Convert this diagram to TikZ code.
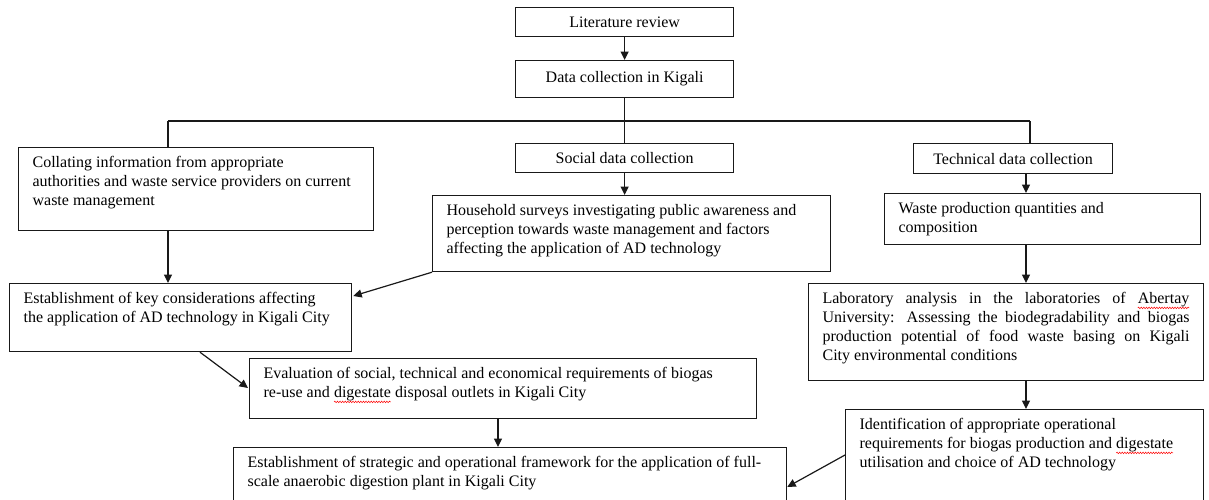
\documentclass[tikz,border=0pt]{standalone}
\usepackage{fontspec}
\setmainfont{Liberation Serif}
\usetikzlibrary{arrows.meta,calc,decorations.pathmorphing}
% red wavy mark under a word flagged by the spell checker
\newcommand\spellchk[1]{\tikz[baseline=(spw.base),x=1pt,y=1pt]{%
  \node[inner sep=0pt,outer sep=0pt,draw=none,anchor=base west] (spw) at (0,0) {#1};
  \draw[red,line width=0.5pt,decorate,decoration={snake,amplitude=0.8pt,segment length=2.6pt}]
    ($(spw.base west)+(0,-4)$) -- ($(spw.base east)+(0,-4)$);}}
% top-aligned text block of fixed width and height
\newcommand\topbox[3]{\parbox[t][#2][t]{#1}{\strut #3}}
\begin{document}
\begin{tikzpicture}[x=1pt,y=-1pt,
  txt/.style={font=\fontsize{16}{19}\selectfont},
  blk/.style={txt, draw=black!90, line width=1.2pt, inner xsep=14pt, inner ysep=7pt, anchor=north west},
  ctr/.style={txt, draw=black!90, line width=1.2pt, inner sep=0pt, anchor=north west, align=center},
  con/.style={draw=black!90, line width=1.2pt},
  arr/.style={con, -{Triangle[length=8.5pt,width=8pt]}}]
\useasboundingbox (0,0) rectangle (1209,499);
\clip (0,0) rectangle (1209,499);

% ---- top chain ----
\node[ctr, minimum width=218pt, minimum height=29pt] (lit)    at (515,7)   {Literature review};
\node[ctr, minimum width=218pt, minimum height=37pt] (data)   at (515,60)  {Data collection in Kigali};
\node[ctr, minimum width=218pt, minimum height=29pt] (social) at (515,143) {Social data collection};
\node[ctr, minimum width=199pt, minimum height=30pt] (tech)   at (913,143) {Technical data collection};

% ---- text blocks ----
\node[blk] (coll) at (18,147) {\topbox{327pt}{69pt}{\raggedright
  Collating information from appropriate\\
  authorities and waste service providers on current\\
  waste management}};
\node[blk] (hh) at (432,195) {\topbox{370pt}{62pt}{\raggedright
  Household surveys investigating public awareness and\\
  perception towards waste management and factors\\
  affecting the application of AD technology}};
\node[blk] (waste) at (884,193) {\topbox{288pt}{37pt}{\raggedright
  Waste production quantities and\\
  composition}};
\node[blk] (key) at (9,283) {\topbox{314pt}{54pt}{\raggedright
  Establishment of key considerations affecting\\
  the application of AD technology in Kigali City}};
\node[blk] (lab) at (808,283) {\topbox{367pt}{83pt}{%
  Laboratory analysis in the laboratories of \spellchk{Abertay}\linebreak
  University: Assessing the biodegradability and biogas\linebreak
  production potential of food waste basing on Kigali\linebreak
  City environmental conditions}};
\node[blk] (eval) at (249,358) {\topbox{479pt}{46pt}{\raggedright
  Evaluation of social, technical and economical requirements of biogas\\
  re-use and \spellchk{digestate} disposal outlets in Kigali City}};
\node[blk] (ident) at (845,409) {\topbox{330pt}{96pt}{\raggedright
  Identification of appropriate operational\\
  requirements for biogas production and \spellchk{digestate}\\
  utilisation and choice of AD technology}};
\node[blk] (strat) at (233,447) {\topbox{525pt}{56pt}{\raggedright
  Establishment of strategic and operational framework for the application of full-\\
  scale anaerobic digestion plant in Kigali City}};

% ---- connectors ----
\coordinate (busL) at (168,121);
\coordinate (busR) at (1030,121);
\coordinate (rx) at (1026,0);
\coordinate (mx) at (498,0);

\draw[arr] (lit.south) -- (data.north);
\draw[con] (data.south) -- (social.north);
\draw[con] (busL) -- (busR);
\draw[con] (busL) -- (busL |- coll.north);
\draw[con] (busR) -- (busR |- tech.north);
\draw[arr] (social.south) -- (social.south |- hh.north);
\draw[arr] (rx |- tech.south) -- (rx |- waste.north);
\draw[arr] (rx |- waste.south) -- (rx |- lab.north);
\draw[arr] (rx |- lab.south) -- (rx |- ident.north);
\draw[arr] (busL |- coll.south) -- (busL |- key.north);
\draw[arr] (hh.south west) -- ($(key.north east)+(1,13)$);
\draw[arr] ($(key.south west)+(191,0)$) -- ($(eval.north west)+(-1,30)$);
\draw[arr] (mx |- eval.south) -- (mx |- strat.north);
\draw[arr] ($(ident.north west)+(0,46)$) -- ($(strat.north east)+(0,40)$);
\end{tikzpicture}
\end{document}
